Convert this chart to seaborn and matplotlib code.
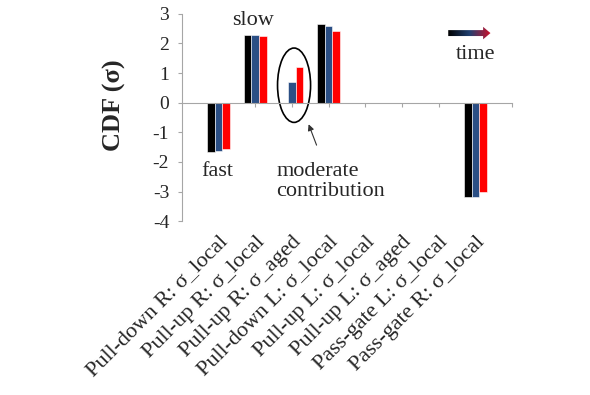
import numpy as np
import pandas as pd
import matplotlib
matplotlib.use("Agg")
import matplotlib.pyplot as plt
import seaborn as sns
from matplotlib.patches import Ellipse, FancyArrow
from matplotlib.colors import LinearSegmentedColormap

categories = ["Pull-down R: σ_local", "Pull-up R: σ_local", "Pull-up R: σ_aged",
              "Pull-down L: σ_local", "Pull-up L: σ_local", "Pull-up L: σ_aged",
              "Pass-gate L: σ_local", "Pass-gate R: σ_local"]
series = ["t0", "t1", "t2"]
vals_t0 = [-1.66, 2.28, np.nan, 2.67, 0, 0, 0, -3.19]
vals_t1 = [-1.62, 2.28, 0.71, 2.60, 0, 0, 0, -3.19]
vals_t2 = [-1.56, 2.24, 1.20, 2.42, 0, 0, 0, -3.00]
colors = ["#000000", "#2b4f85", "#ff0000"]
yticks = [-4, -3, -2, -1, 0, 1, 2, 3]

df = pd.DataFrame({
    "cat": categories * 3,
    "series": sum([[s] * len(categories) for s in series], []),
    "val": vals_t0 + vals_t1 + vals_t2,
})

sns.set_style("white")
plt.rcParams["font.family"] = ["Liberation Serif", "DejaVu Serif"]

fig = plt.figure(figsize=(5.9, 3.95), dpi=100)
ax = fig.add_axes([0.308, 0.44, 0.56, 0.525])

sns.barplot(data=df, x="cat", y="val", hue="series", order=categories,
            hue_order=series, palette=colors, width=0.63, saturation=1,
            edgecolor="white", linewidth=0.4, legend=False, ax=ax)

ax.set_xlim(-1, 8)
ax.set_ylim(-4, 3)
ax.set_yticks(yticks)
ax.set_yticklabels([str(t) for t in yticks], fontsize=14)
ax.set_ylabel("CDF (σ)", fontsize=19, fontweight="bold")
ax.yaxis.set_label_coords(-0.17, 0.56)
ax.set_xlabel("")

for s in ["top", "right"]:
    ax.spines[s].set_visible(False)
ax.spines["left"].set_color("#a6a6a6")
ax.spines["bottom"].set_color("#a6a6a6")
ax.spines["bottom"].set_position(("data", 0))
ax.set_xticks(range(0, 9))
ax.set_xticklabels([])
ax.tick_params(axis="x", direction="out", length=3, color="#a6a6a6", bottom=True)
ax.tick_params(axis="y", direction="out", length=3, color="#a6a6a6", left=True, pad=6)

sec = ax.secondary_xaxis(0)
sec.set_xticks(range(len(categories)))
sec.set_xticklabels(categories, rotation=45, ha="right", rotation_mode="anchor",
                    fontsize=16)
sec.tick_params(length=0, pad=8)
sec.spines["bottom"].set_visible(False)

# annotations
ax.text(0.95, 2.76, "slow", fontsize=16, ha="center", va="center")
ax.text(-0.03, -2.33, "fast", fontsize=16, ha="center", va="center")
ax.text(1.58, -2.66, "moderate\ncontribution", fontsize=16, ha="left",
        va="center", linespacing=1.05)
ax.add_patch(Ellipse((2.06, 0.59), 0.9, 2.51, fill=False, edgecolor="black", lw=1.2))
ax.annotate("", xy=(2.43, -0.64), xytext=(2.70, -1.52),
            arrowprops=dict(arrowstyle="-|>", color="#333333", lw=0.8,
                            mutation_scale=9))

# gradient "time" arrow
arr = FancyArrow(6.26, 2.35, 1.15, 0, width=0.2, head_width=0.42,
                 head_length=0.2, length_includes_head=True,
                 transform=ax.transData, facecolor="none", edgecolor="none")
ax.add_patch(arr)
cmap = LinearSegmentedColormap.from_list("t", ["#000000", "#1f3f70", "#d0102a"])
grad = np.linspace(0, 1, 256).reshape(1, -1)
im = ax.imshow(grad, cmap=cmap, extent=(6.26, 7.41, 2.1, 2.6), aspect="auto",
               zorder=3)
im.set_clip_path(arr)
ax.text(7.0, 1.62, "time", fontsize=16, ha="center", va="center")

ax.set_xlim(-1, 8)
ax.set_ylim(-4, 3)

fig.savefig("out.png", dpi=100)
